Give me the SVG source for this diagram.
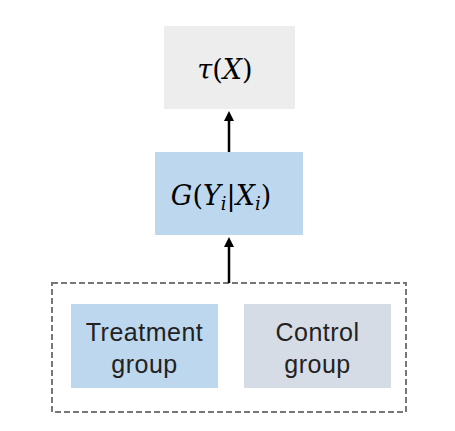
<svg xmlns="http://www.w3.org/2000/svg" width="455" height="431" viewBox="0 0 455 431">
<defs>
<marker id="ah" markerWidth="10" markerHeight="10" refX="5" refY="5" orient="auto" markerUnits="userSpaceOnUse">
<path d="M0,0 L10,5 L0,10 z" fill="#000"/>
</marker>
<style>
.math{font-family:"DejaVu Serif","Liberation Serif",serif;font-style:italic;font-size:27px;fill:#000}
.up{font-style:normal}
.sub{font-size:18px}
.lbl{font-family:"Liberation Sans","Open Sans",sans-serif;font-size:25px;letter-spacing:0.5px;fill:#222;text-anchor:middle}
.edge{stroke:#000;stroke-width:2.5;fill:none}
</style>
</defs>
<rect width="455" height="431" fill="#fff"/>
<g id="tau">
<rect x="164" y="26" width="131" height="83" fill="#ededed"/>
<text class="math" x="225" y="79" text-anchor="middle">τ<tspan class="up">(</tspan>X<tspan class="up">)</tspan></text>
</g>
<g id="G">
<rect x="155" y="152" width="148" height="83" fill="#bdd7ee"/>
<text class="math" x="221" y="205" text-anchor="middle">G<tspan class="up">(</tspan>Y<tspan class="sub" dy="5">i</tspan><tspan class="up" dy="-5">|</tspan>X<tspan class="sub" dy="5">i</tspan><tspan class="up" dy="-5">)</tspan></text>
</g>
<g id="groups">
<rect x="52" y="283" width="354" height="129" fill="none" stroke="#777" stroke-width="2" stroke-dasharray="6,3"/>
</g>
<g id="treatment">
<rect x="71" y="304" width="147" height="84" fill="#bdd7ee"/>
<text class="lbl" x="144.5" y="341">Treatment</text>
<text class="lbl" x="144.5" y="373">group</text>
</g>
<g id="control">
<rect x="244" y="304" width="147" height="84" fill="#d6dce5"/>
<text class="lbl" x="317.5" y="341">Control</text>
<text class="lbl" x="317.5" y="373">group</text>
</g>
<g id="connectors">
<line class="edge" x1="229" y1="152" x2="229" y2="116" marker-end="url(#ah)"/>
<line class="edge" x1="229" y1="283" x2="229" y2="242" marker-end="url(#ah)"/>
</g>
</svg>
